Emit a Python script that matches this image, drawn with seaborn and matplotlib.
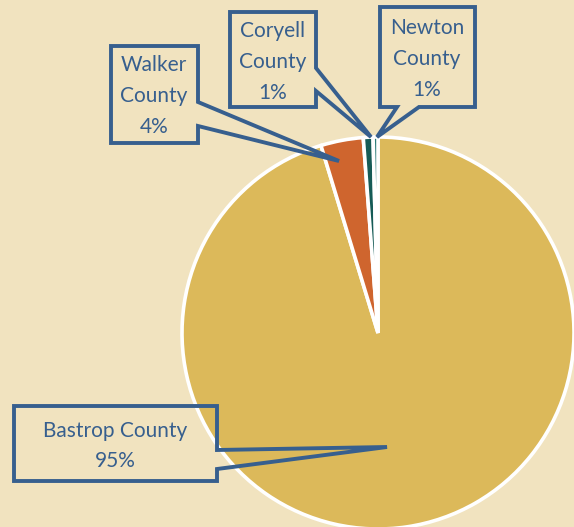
import matplotlib
matplotlib.use("Agg")
import matplotlib.pyplot as plt
from matplotlib.patches import Polygon
import seaborn as sns

# data
counties = ["Bastrop County", "Walker County", "Coryell County", "Newton County"]
shares = [95.3, 3.5, 0.8, 0.4]
pct_labels = ["95%", "4%", "1%", "1%"]
label_names = ["Bastrop County", "Walker\nCounty", "Coryell\nCounty", "Newton\nCounty"]
slice_colors = ["#DCB95A", "#CF652E", "#165B56", "#2C7C77"]

bg = "#F1E3BF"
ink = "#375F8E"

sns.set_style("white")
plt.rcParams["font.family"] = ["Lato", "DejaVu Sans"]

W, H = 574, 527


def px(x, y):
    # pixel coords (y down) -> data coords (y up)
    return (x, H - y)


fig = plt.figure(figsize=(W / 100, H / 100), dpi=100, facecolor=bg)
ax = fig.add_axes([0, 0, 1, 1])
ax.set_facecolor(bg)
ax.axis("off")

ax.pie(shares, colors=slice_colors, startangle=90, counterclock=False,
       center=px(378, 333), radius=196,
       wedgeprops=dict(edgecolor="white", linewidth=2.6))
ax.set_xlim(0, W)
ax.set_ylim(0, H)

# callout layout: box (left, top, right, bottom), pointer base, tip, text centre
callouts = {
    "Bastrop County": dict(box=(14, 406, 217, 481), side="right", base=(450, 469),
                           tip=(387, 447), text=(115, 446), ls=1.65),
    "Walker County": dict(box=(111, 46, 198, 143), side="right", base=(102, 126),
                          tip=(339, 161), text=(154, 96), ls=1.7),
    "Coryell County": dict(box=(230, 12, 316, 107), side="right", base=(68, 91),
                           tip=(371, 137), text=(273, 62), ls=1.7),
    "Newton County": dict(box=(380, 7, 475, 107), side="bottom", base=(397, 419),
                          tip=(377, 137), text=(427, 59), ls=1.7),
}

for name, disp, pct in zip(counties, label_names, pct_labels):
    c = callouts[name]
    l, t, r, b = c["box"]
    b0, b1 = c["base"]
    if c["side"] == "right":
        pts = [(l, t), (r, t), (r, b0), c["tip"], (r, b1), (r, b), (l, b)]
    else:
        pts = [(l, t), (r, t), (r, b), (b1, b), c["tip"], (b0, b), (l, b)]
    ax.add_patch(Polygon([px(*p) for p in pts], closed=True, fill=False,
                         edgecolor=ink, linewidth=2.8, joinstyle="miter", zorder=5))
    ax.text(*px(*c["text"]), f"{disp}\n{pct}", ha="center", va="center",
            color=ink, fontsize=15, linespacing=c["ls"], zorder=6)

fig.savefig("out.png", dpi=100, facecolor=bg)
